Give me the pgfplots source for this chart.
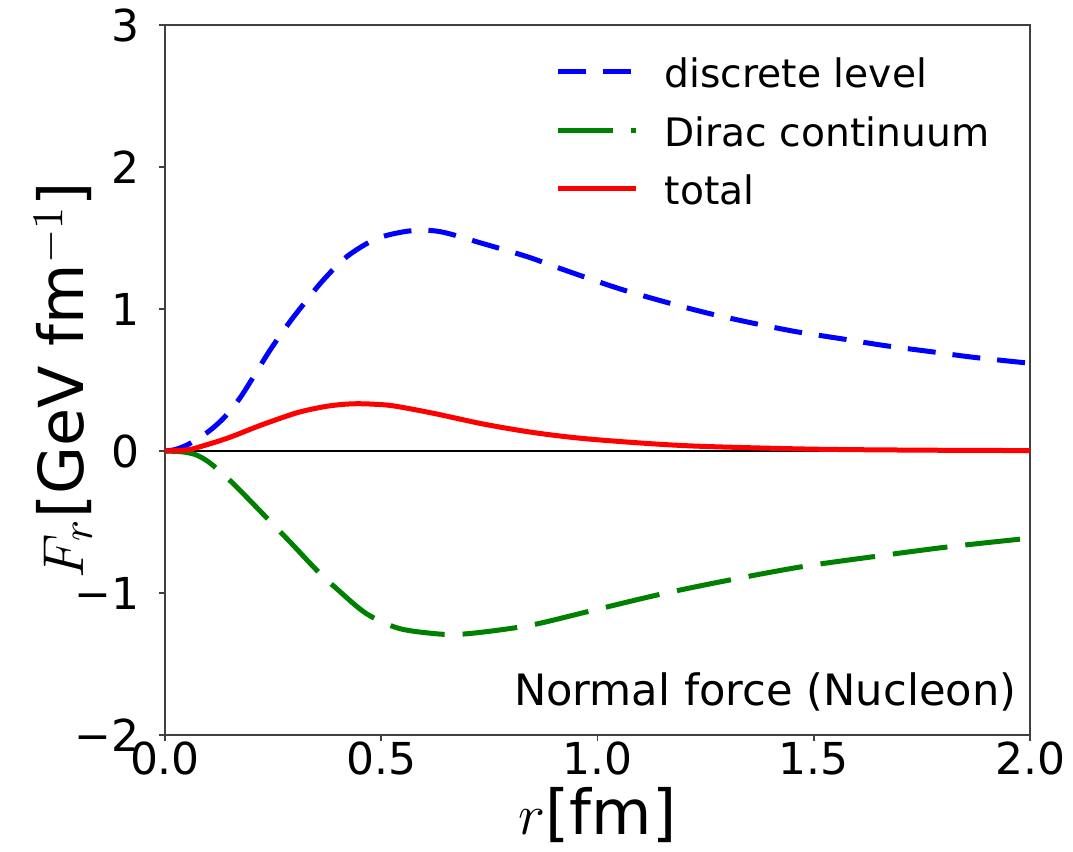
\documentclass[border=0pt]{standalone}
\usepackage{pgfplots}
\pgfplotsset{compat=1.18}
\usepackage{fontspec}
\setmainfont{DejaVu Sans}
\definecolor{mplblue}{RGB}{0,0,255}
\definecolor{mplgreen}{RGB}{0,128,0}
\definecolor{mplred}{RGB}{255,0,0}

\pgfplotstableread{
r F
0.000 0.000
0.020 0.008
0.040 0.028
0.058 0.054
0.100 0.136
0.135 0.230
0.170 0.359
0.200 0.500
0.243 0.711
0.289 0.911
0.328 1.063
0.366 1.204
0.420 1.368
0.489 1.495
0.566 1.550
0.636 1.545
0.736 1.460
0.836 1.370
0.902 1.298
0.980 1.215
1.060 1.134
1.156 1.050
1.256 0.970
1.360 0.900
1.460 0.840
1.565 0.790
1.665 0.742
1.770 0.700
1.869 0.660
2.000 0.618
}\discrete

\pgfplotstableread{
r F
0.000 0.000
0.040 -0.006
0.070 -0.025
0.095 -0.065
0.119 -0.122
0.158 -0.230
0.200 -0.360
0.235 -0.470
0.289 -0.640
0.351 -0.840
0.397 -0.970
0.466 -1.146
0.543 -1.251
0.644 -1.291
0.705 -1.285
0.798 -1.250
0.867 -1.213
0.979 -1.130
1.145 -1.009
1.306 -0.908
1.472 -0.815
1.638 -0.744
1.803 -0.678
1.973 -0.622
2.000 -0.614
}\dirac

\pgfplotstableread{
r F
0.000 0.000
0.040 0.005
0.066 0.017
0.143 0.089
0.220 0.180
0.297 0.262
0.335 0.292
0.374 0.315
0.410 0.328
0.443 0.333
0.480 0.330
0.528 0.318
0.620 0.266
0.736 0.190
0.852 0.130
0.967 0.088
1.121 0.052
1.250 0.032
1.500 0.013
1.750 0.006
2.000 0.003
}\total

\begin{document}
\begin{tikzpicture}
\begin{axis}[
    scale only axis,
    width=216.25pt, height=177.5pt,
    xmin=0, xmax=2, ymin=-2, ymax=3,
    xtick={0,0.5,1,1.5,2},
    xticklabels={0.0,0.5,1.0,1.5,2.0},
    ytick={-2,-1,0,1,2,3},
    yticklabels={−2,−1,0,1,2,3},
    tick align=outside,
    major tick length=1.6pt,
    tick style={black!75, line width=0.4pt},
    axis line style={black!75, line width=0.4pt},
    xtick pos=bottom, ytick pos=left,
    ticklabel style={font=\fontsize{11}{13}\selectfont},
    xticklabel style={yshift=3.4pt},
    yticklabel style={xshift=-1.3pt},
    xlabel={$r$[fm]},
    ylabel={$F_r$[GeV fm$^{-1}$]},
    label style={font=\fontsize{15.5}{18}\selectfont},
    xlabel style={at={(rel axis cs:0.5,-0.1127)}, anchor=center},
    ylabel style={at={(rel axis cs:-0.118,0.5)}, anchor=center},
    clip=false,
    legend cell align=left,
    legend image code/.code={
        \draw[line width=1.25pt] plot coordinates {(0pt,0pt) (19.5pt,0pt)};
        \path (24pt,0pt);
    },
    legend style={draw=none, fill=none, inner sep=0pt,
        at={(rel axis cs:0.4508,0.9723)}, anchor=north west,
        font=\fontsize{9.8}{12}\selectfont, row sep=1.5pt},
]
\addplot[black, line width=0.35pt, forget plot] coordinates {(0,0) (2,0)};
\addplot[mplblue, line width=1.25pt, smooth, dash pattern=on 7pt off 4.25pt] table {\discrete};
\addlegendentry[text height=8.6pt, text depth=0.5pt]{discrete level}
\addplot[mplgreen, line width=1.25pt, smooth, dash pattern=on 13.75pt off 4.5pt] table {\dirac};
\addlegendentry[text height=8.6pt, text depth=0.5pt]{Dirac continuum}
\addplot[mplred, line width=1.25pt, smooth] table {\total};
\addlegendentry[text height=8.6pt, text depth=0.5pt]{total}
\node[anchor=east, inner sep=0pt, font=\fontsize{10.8}{12}\selectfont]
    at (rel axis cs:0.985,0.06) {Normal force (Nucleon)};
\coordinate (bl) at (rel axis cs:-0.19075,-0.1634);
\coordinate (tr) at (rel axis cs:1.0497,1.0352);
\end{axis}
\pgfresetboundingbox
\path (bl) rectangle (tr);
\end{tikzpicture}
\end{document}
